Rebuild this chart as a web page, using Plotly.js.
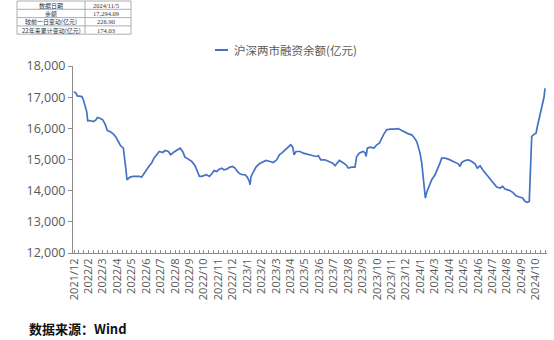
<!DOCTYPE html>
<html>
<head>
<meta charset="utf-8">
<script src="https://cdn.plot.ly/plotly-3.0.1.min.js"></script>
<style>html,body{margin:0;padding:0;background:#fff;}#chart{width:554px;height:340px;}</style>
</head>
<body>
<div id="chart"></div>
<script>
// Position along the axis in units of tick-label slots (trading-day category axis)
const positions = [
  0,0.14,0.23,0.42,0.55,0.65,0.76,0.88,0.95,1.11,1.34,1.52,1.62,1.80,1.99,2.15,2.31,2.49,2.72,2.91,
  3.07,3.23,3.42,3.49,3.60,3.67,3.88,4.11,4.34,4.52,4.69,4.80,4.99,5.22,5.38,5.54,5.73,5.91,6.15,6.31,
  6.54,6.70,6.88,7.12,7.35,7.53,7.69,7.92,8.16,8.39,8.55,8.69,8.85,9.01,9.19,9.38,9.54,9.70,9.89,10.07,
  10.23,10.39,10.58,10.81,10.99,11.16,11.32,11.50,11.69,11.85,12.01,12.15,12.20,12.27,12.43,12.61,12.84,13.08,13.31,
  13.58,13.81,14.05,14.23,14.39,14.62,14.85,15.02,15.16,15.25,15.38,15.66,15.89,16.17,16.47,16.77,16.93,17.10,17.39,17.69,
  17.93,18.09,18.21,18.39,18.62,18.85,19.01,19.24,19.47,19.59,19.77,20.01,20.17,20.24,20.33,20.51,20.79,20.98,21.16,21.32,
  21.48,21.67,21.90,22.18,22.47,22.71,22.94,23.17,23.40,23.56,23.75,23.89,23.98,24.10,24.21,24.28,24.35,24.44,24.62,24.79,
  25.02,25.18,25.36,25.48,25.71,25.94,26.17,26.40,26.63,26.75,26.87,27.10,27.33,27.56,27.79,27.95,28.14,28.36,28.60,28.83,
  29.06,29.29,29.52,29.71,29.87,30.17,30.40,30.63,30.86,31.09,31.25,31.41,31.55,31.65,31.72,31.83,32.02,32.11,32.25,32.41,
  32.52,32.57,32.64
];
// 沪深两市融资余额 (亿元)
const balance = [
  17178,17125,17040,17040,17018,16911,16751,16538,16239,16250,16218,16271,16346,16324,16271,16143,15930,15898,15823,15716,
  15577,15439,15364,15151,14670,14350,14436,14457,14468,14457,14436,14510,14670,14798,14884,15044,15151,15257,15225,15289,
  15257,15151,15225,15311,15364,15257,15076,15012,14937,14798,14617,14457,14457,14478,14510,14457,14532,14649,14617,14692,
  14724,14670,14692,14756,14777,14724,14617,14542,14510,14510,14436,14297,14190,14457,14617,14756,14862,14905,14969,
  14937,14905,14990,15150,15204,15311,15417,15471,15396,15150,15257,15257,15204,15172,15119,15097,15119,14990,14990,14937,
  14884,14798,14862,14969,14905,14830,14724,14756,14756,15097,15204,15257,15225,15097,15364,15396,15364,15471,15524,15684,
  15823,15951,15972,15972,15993,15930,15866,15823,15791,15716,15577,15364,15204,14884,14350,13977,13763,13945,14137,14350,
  14510,14670,14884,15044,15044,15012,14969,14905,14862,14777,14905,14969,14990,14937,14862,14724,14798,14649,14510,14350,
  14222,14115,14083,14137,14051,14009,13945,13838,13795,13763,13657,13624,13657,14777,15738,15791,15844,16058,16378,16645,
  16933,16997,17285
];
const tickLabels = ["2021/12","2022/2","2022/3","2022/4","2022/5","2022/6","2022/7","2022/8","2022/9","2022/10","2022/11","2022/12",
  "2023/1","2023/2","2023/3","2023/4","2023/5","2023/6","2023/7","2023/8","2023/9","2023/10","2023/11","2023/12",
  "2024/1","2024/3","2024/4","2024/5","2024/6","2024/7","2024/8","2024/9","2024/10"];
const yTicks = [12000,13000,14000,15000,16000,17000,18000];
const seriesName = "沪深两市融资余额(亿元)";
const tableLeft = ["数据日期","余额","较前一日变动(亿元)","22年来累计变动(亿元)"];
const tableRight = ["2024/11/5","17,294.09","226.90","174.03"];
const sourceText = "数据来源：Wind";

// tick positions: labels at each slot, small ticks every third of a slot
const tickvals = [], ticktext = [];
for (let i = 0; i < tickLabels.length; i++) {
  for (let k = 0; k < 3; k++) {
    tickvals.push(i + k / 3);
    ticktext.push(k === 0 ? tickLabels[i] : "");
  }
}

const L = 73, R = 547, T = 66, B = 253;
const px = x => (x - L) / (R - L);
const py = y => (B - y) / (B - T);

const shapes = [];
const annotations = [];
// legend
shapes.push({type:'line', xref:'paper', yref:'paper', x0:px(215), x1:px(228), y0:py(50), y1:py(50),
  line:{color:'#4472C4', width:2}});
annotations.push({xref:'paper', yref:'paper', x:px(232), y:py(50), xanchor:'left', yanchor:'middle',
  text:seriesName, showarrow:false, font:{family:'Noto Sans CJK SC', size:11.5, color:'#595959'}});
// source
annotations.push({xref:'paper', yref:'paper', x:px(27), y:py(328), xanchor:'left', yanchor:'middle',
  text:'<b>' + sourceText + '</b>', showarrow:false, font:{family:'Noto Sans CJK SC', size:13, color:'#111'}});
// table
const rowLines = [1, 9.3, 17.6, 25.9, 34.2];
const colLines = [17, 85, 131];
rowLines.forEach(y => shapes.push({type:'line', xref:'paper', yref:'paper', x0:px(17), x1:px(131), y0:py(y), y1:py(y),
  line:{color:'#9a9a9a', width:0.8}}));
colLines.forEach(x => shapes.push({type:'line', xref:'paper', yref:'paper', x0:px(x), x1:px(x), y0:py(1), y1:py(34.2),
  line:{color:'#9a9a9a', width:0.8}}));
for (let r = 0; r < 4; r++) {
  const yc = (rowLines[r] + rowLines[r+1]) / 2;
  annotations.push({xref:'paper', yref:'paper', x:px(51), y:py(yc), xanchor:'center', yanchor:'middle',
    text:tableLeft[r], showarrow:false, borderpad:0, font:{family:'Noto Sans CJK SC', size:6, color:'#333'}});
  annotations.push({xref:'paper', yref:'paper', x:px(106), y:py(yc), xanchor:'center', yanchor:'middle',
    text:tableRight[r], showarrow:false, borderpad:0, font:{family:'Liberation Serif', size:6.5, color:'#333'}});
}

const trace = {
  x: positions, y: balance, type:'scatter', mode:'lines', name: seriesName,
  line:{color:'#4472C4', width:1.7}, showlegend:false, hoverinfo:'skip'
};

const layout = {
  width:554, height:340,
  margin:{l:L, r:554-R, t:T, b:340-B, pad:0},
  paper_bgcolor:'#fff', plot_bgcolor:'#fff',
  showlegend:false,
  xaxis:{
    range:[-0.07, (R - 74) / 14.43], tickmode:'array', tickvals:tickvals, ticktext:ticktext,
    tickangle:-90, ticks:'inside', ticklen:3, tickwidth:1, tickcolor:'#8c8c8c',
    showline:true, linecolor:'#8c8c8c', linewidth:1, showgrid:false, zeroline:false,
    tickfont:{family:'Open Sans', size:11, color:'#595959'}, fixedrange:true
  },
  yaxis:{
    range:[12000,18000], tickmode:'array', tickvals:yTicks, tickformat:',d',
    ticks:'outside', ticklen:4, tickcolor:'#8c8c8c', showline:true, linecolor:'#8c8c8c', linewidth:1,
    showgrid:false, zeroline:false,
    tickfont:{family:'Open Sans', size:12.5, color:'#595959'}, fixedrange:true
  },
  shapes:shapes, annotations:annotations
};

Plotly.newPlot('chart', [trace], layout, {staticPlot:true, displayModeBar:false});
</script>
</body>
</html>
